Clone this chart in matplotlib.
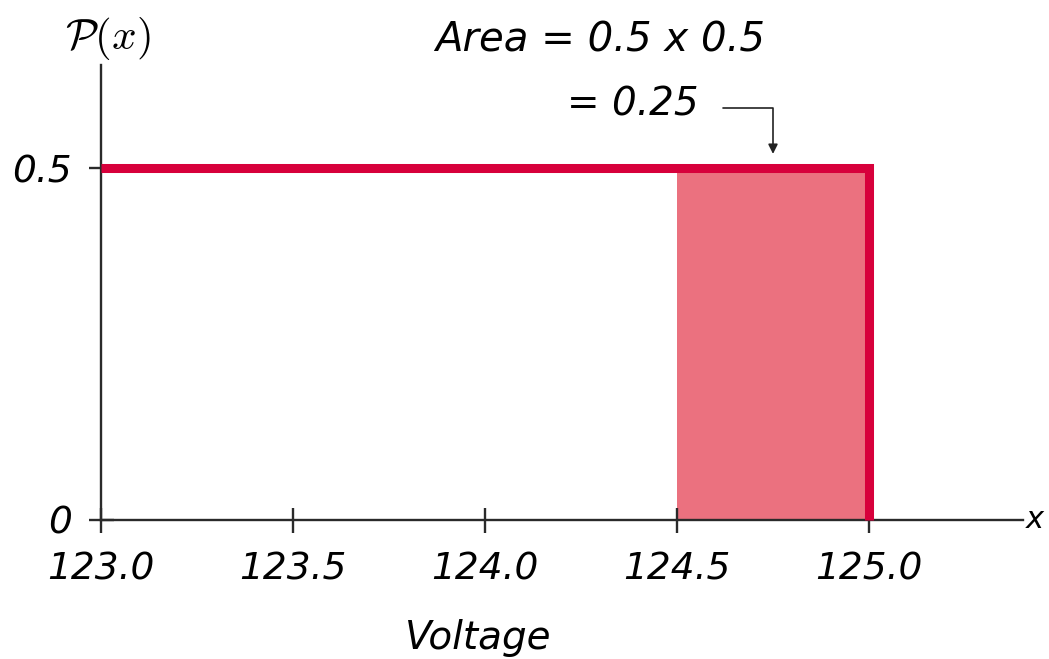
import matplotlib
matplotlib.use("Agg")
import matplotlib.pyplot as plt

# uniform distribution of voltage
x_lo = 123.0
x_hi = 125.0
density = 0.5
shade_lo = 124.5
shade_hi = 125.0

xticks = [123.0, 123.5, 124.0, 124.5, 125.0]
xtick_labels = ["123.0", "123.5", "124.0", "124.5", "125.0"]
yticks = [0, 0.5]
ytick_labels = ["0", "0.5"]

W, H = 1049, 659
fig = plt.figure(figsize=(W / 100, H / 100), dpi=100)
ax = fig.add_axes([101 / W, 1 - 520 / H, 922 / W, 455 / H])

ax.set_xlim(123.0, 123.0 + 922 / 384)
ax.set_ylim(0, 455 / 704)

red = "#D7003B"
pink = "#EB717F"

# shaded area between 124.5 and 125.0
ax.fill_between([shade_lo, shade_hi], 0, density, color=pink, lw=0, zorder=1)
# density function
ax.plot([x_lo, x_hi, x_hi], [density, density, 0], color=red, lw=6.5,
        solid_joinstyle="miter", solid_capstyle="butt", zorder=3, clip_on=False)

for s in ["top", "right"]:
    ax.spines[s].set_visible(False)
for s in ["left", "bottom"]:
    ax.spines[s].set_color("#2a2a2a")
    ax.spines[s].set_linewidth(1.7)

tfont = dict(family="DejaVu Sans", style="italic", size=27)
ax.set_xticks(xticks)
ax.set_xticklabels(xtick_labels, **tfont)
ax.set_yticks(yticks)
ax.set_yticklabels(ytick_labels, **tfont)
ax.tick_params(direction="inout", length=18, width=1.7, color="#2a2a2a")
ax.tick_params(axis="x", pad=14)
ax.tick_params(axis="y", pad=12)

# axis titles
plt.rcParams["mathtext.fontset"] = "cm"
fig.text(65 / W, 1 - 38 / H, r"$\mathcal{P}(x)$", fontsize=31, ha="left", va="center")
fig.text(478 / W, 1 - 638 / H, "Voltage", fontsize=28, style="italic",
         ha="center", va="center")
fig.text(1026 / W, 1 - 520 / H, "x", fontsize=22, style="italic",
         ha="left", va="center")

# area annotation
fig.text(435 / W, 1 - 40 / H, "Area = 0.5 x 0.5", fontsize=29, style="italic",
         ha="left", va="center")
fig.text(567 / W, 1 - 105 / H, "= 0.25", fontsize=28, style="italic",
         ha="left", va="center")
ax.annotate("", xy=(124.75, 0.52), xytext=(124.62, 0.585),
            arrowprops=dict(arrowstyle="-|>", color="#222222", lw=1.2,
                            mutation_scale=14,
                            connectionstyle="angle,angleA=0,angleB=90,rad=0",
                            shrinkA=0, shrinkB=0))

fig.savefig("out.png", dpi=100)
